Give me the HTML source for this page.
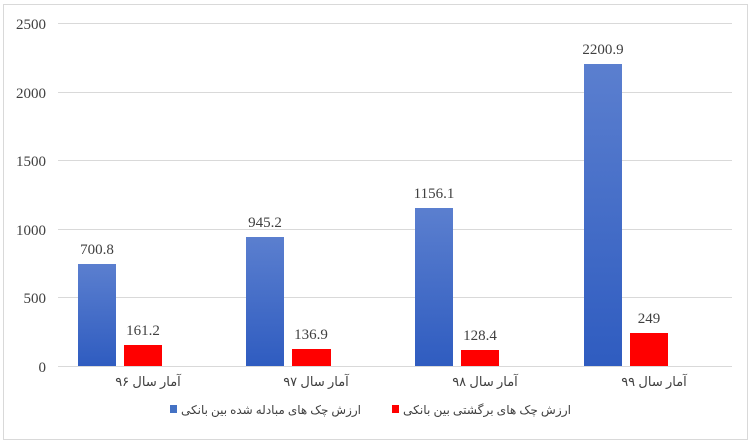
<!DOCTYPE html>
<html><head><meta charset="utf-8"><style>
body{margin:0;background:#fff}
svg{display:block}
text{font-family:"Liberation Serif","DejaVu Sans",serif;fill:#404040}
</style></head><body>
<svg width="751" height="442" xmlns="http://www.w3.org/2000/svg">
<defs>
<linearGradient id="b" x1="0" y1="0" x2="0" y2="1"><stop offset="0" stop-color="#5b7fcf"/><stop offset="1" stop-color="#2f5cc0"/></linearGradient>
</defs>
<rect x="3.5" y="4.5" width="744" height="435" fill="#fff" stroke="#d9d9d9"/>
<g stroke="#d9d9d9" stroke-width="1">
<line x1="58" x2="732" y1="23.5" y2="23.5"/>
<line x1="58" x2="732" y1="92.5" y2="92.5"/>
<line x1="58" x2="732" y1="160.5" y2="160.5"/>
<line x1="58" x2="732" y1="229.5" y2="229.5"/>
<line x1="58" x2="732" y1="297.5" y2="297.5"/>
</g>
<g font-size="15" text-anchor="end">
<text x="46" y="29">2500</text>
<text x="46" y="98">2000</text>
<text x="46" y="166">1500</text>
<text x="46" y="235">1000</text>
<text x="46" y="303">500</text>
<text x="46" y="372">0</text>
</g>
<g fill="url(#b)">
<rect x="78" y="264" width="38" height="102"/>
<rect x="246" y="237" width="38" height="129"/>
<rect x="415" y="208" width="38" height="158"/>
<rect x="584" y="64" width="38" height="302"/>
</g>
<g fill="#ff0000">
<rect x="124" y="345" width="38" height="21"/>
<rect x="292" y="349" width="39" height="17"/>
<rect x="461" y="350" width="38" height="16"/>
<rect x="630" y="333" width="38" height="33"/>
</g>
<line x1="58" x2="732" y1="366.5" y2="366.5" stroke="#d9d9d9"/>
<g font-size="15" text-anchor="middle">
<text x="97" y="254">700.8</text>
<text x="265" y="227">945.2</text>
<text x="434" y="198">1156.1</text>
<text x="603" y="54">2200.9</text>
<text x="143" y="335">161.2</text>
<text x="311" y="339">136.9</text>
<text x="480" y="340">128.4</text>
<text x="649" y="323">249</text>
</g>
<g font-size="13" text-anchor="middle">
<text x="148" y="386">آمار سال ۹۶</text>
<text x="316" y="386">آمار سال ۹۷</text>
<text x="485" y="386">آمار سال ۹۸</text>
<text x="654" y="386">آمار سال ۹۹</text>
</g>
<rect x="170" y="405" width="7" height="8" fill="#4472c4"/>
<rect x="392" y="405" width="7" height="8" fill="#ff0000"/>
<g font-size="12" text-anchor="start">
<text x="181" y="414" textLength="180" lengthAdjust="spacingAndGlyphs">ارزش چک های مبادله شده بین بانکی</text>
<text x="403" y="414" textLength="168" lengthAdjust="spacingAndGlyphs">ارزش چک های برگشتی بین بانکی</text>
</g>
</svg>
</body></html>
